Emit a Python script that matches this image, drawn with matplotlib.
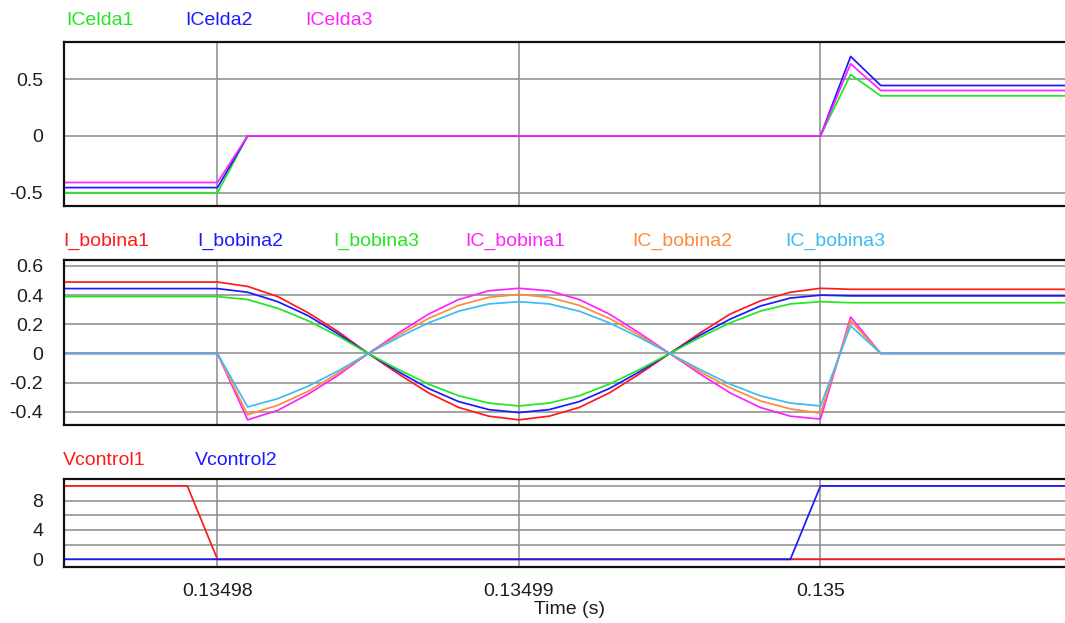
import matplotlib
matplotlib.use("Agg")
import matplotlib.pyplot as plt
from matplotlib import ticker

plt.rcParams['font.family'] = ['Liberation Sans', 'DejaVu Sans']

# ---- simulation samples (time step 1 us) ----
time_s = [0.134974, 0.134975, 0.134976, 0.134977, 0.134978, 0.134979, 0.134980,
          0.134981, 0.134982, 0.134983, 0.134984, 0.134985, 0.134986, 0.134987,
          0.134988, 0.134989, 0.134990, 0.134991, 0.134992, 0.134993, 0.134994,
          0.134995, 0.134996, 0.134997, 0.134998, 0.134999, 0.135000,
          0.135001, 0.135002, 0.135003, 0.135004, 0.135005, 0.135006, 0.135007,
          0.135008, 0.135009]

# cell currents
icelda1 = [-0.5, -0.5, -0.5, -0.5, -0.5, -0.5, -0.5,
           0, 0, 0, 0, 0, 0, 0, 0, 0, 0, 0, 0, 0, 0, 0, 0, 0, 0, 0, 0,
           0.54, 0.353, 0.353, 0.353, 0.353, 0.353, 0.353, 0.353, 0.353]
icelda2 = [-0.455, -0.455, -0.455, -0.455, -0.455, -0.455, -0.455,
           0, 0, 0, 0, 0, 0, 0, 0, 0, 0, 0, 0, 0, 0, 0, 0, 0, 0, 0, 0,
           0.70, 0.444, 0.444, 0.444, 0.444, 0.444, 0.444, 0.444, 0.444]
icelda3 = [-0.41, -0.41, -0.41, -0.41, -0.41, -0.41, -0.41,
           0, 0, 0, 0, 0, 0, 0, 0, 0, 0, 0, 0, 0, 0, 0, 0, 0, 0, 0, 0,
           0.635, 0.40, 0.40, 0.40, 0.40, 0.40, 0.40, 0.40, 0.40]

# inductor currents
i_bobina1 = [0.49, 0.49, 0.49, 0.49, 0.49, 0.49, 0.49,
             0.46, 0.39, 0.28, 0.15, 0.0, -0.14, -0.27, -0.37, -0.43, -0.455,
             -0.43, -0.37, -0.27, -0.14, 0.0, 0.14, 0.27, 0.36, 0.42, 0.447,
             0.44, 0.44, 0.44, 0.44, 0.44, 0.44, 0.44, 0.44, 0.44]
i_bobina2 = [0.445, 0.445, 0.445, 0.445, 0.445, 0.445, 0.445,
             0.42, 0.355, 0.26, 0.135, 0.0, -0.125, -0.24, -0.33, -0.385, -0.405,
             -0.385, -0.33, -0.24, -0.125, 0.0, 0.125, 0.235, 0.325, 0.38, 0.40,
             0.395, 0.395, 0.395, 0.395, 0.395, 0.395, 0.395, 0.395, 0.395]
i_bobina3 = [0.39, 0.39, 0.39, 0.39, 0.39, 0.39, 0.39,
             0.37, 0.31, 0.225, 0.12, 0.0, -0.11, -0.21, -0.29, -0.34, -0.36,
             -0.34, -0.29, -0.21, -0.11, 0.0, 0.11, 0.21, 0.29, 0.34, 0.355,
             0.348, 0.348, 0.348, 0.348, 0.348, 0.348, 0.348, 0.348, 0.348]
ic_bobina1 = [0, 0, 0, 0, 0, 0, 0,
              -0.455, -0.39, -0.28, -0.15, 0.0, 0.14, 0.27, 0.37, 0.43, 0.447,
              0.43, 0.37, 0.27, 0.14, 0.0, -0.14, -0.27, -0.37, -0.43, -0.45,
              0.25, 0, 0, 0, 0, 0, 0, 0, 0]
ic_bobina2 = [0, 0, 0, 0, 0, 0, 0,
              -0.42, -0.355, -0.26, -0.135, 0.0, 0.125, 0.24, 0.33, 0.385, 0.405,
              0.385, 0.33, 0.24, 0.125, 0.0, -0.125, -0.235, -0.325, -0.38, -0.41,
              0.225, 0, 0, 0, 0, 0, 0, 0, 0]
ic_bobina3 = [0, 0, 0, 0, 0, 0, 0,
              -0.367, -0.31, -0.225, -0.12, 0.0, 0.11, 0.21, 0.29, 0.34, 0.355,
              0.34, 0.29, 0.21, 0.11, 0.0, -0.11, -0.21, -0.29, -0.34, -0.36,
              0.19, 0, 0, 0, 0, 0, 0, 0, 0]

# control signals
vcontrol1 = [10, 10, 10, 10, 10, 10, 0,
             0, 0, 0, 0, 0, 0, 0, 0, 0, 0, 0, 0, 0, 0, 0, 0, 0, 0, 0, 0,
             0, 0, 0, 0, 0, 0, 0, 0, 0]
vcontrol2 = [0, 0, 0, 0, 0, 0, 0,
             0, 0, 0, 0, 0, 0, 0, 0, 0, 0, 0, 0, 0, 0, 0, 0, 0, 0, 0, 10,
             10, 10, 10, 10, 10, 10, 10, 10, 10]

x_ticks = [0.13498, 0.13499, 0.135]
panel1_yticks = [-0.5, 0, 0.5]
panel2_yticks = [-0.4, -0.2, 0, 0.2, 0.4, 0.6]
panel3_yticks = [0, 4, 8]
panel3_ygrid = [2, 6, 10]

RED = '#ff1a1a'
BLUE = '#1a1aff'
GREEN = '#22e622'
MAGENTA = '#ff22ff'
ORANGE = '#ff8a3a'
CYAN = '#3cbcf0'

W, H = 1065, 623
fig = plt.figure(figsize=(W / 100, H / 100), dpi=100)

FS = 14
TXT = '#1e1e1e'
x_left, x_right = 0.13497491, 0.13500811


def make_axes(top, bottom):
    ax = fig.add_axes([64 / W, 1 - bottom / H, (W - 64) / W, (bottom - top) / H])
    ax.set_xlim(x_left, x_right)
    for side in ('top', 'bottom', 'left'):
        ax.spines[side].set_linewidth(1.6)
        ax.spines[side].set_color('#111111')
    ax.spines['right'].set_visible(False)
    ax.xaxis.set_major_locator(ticker.FixedLocator(x_ticks))
    ax.xaxis.set_major_formatter(ticker.FuncFormatter(lambda v, p: f'{v:g}'))
    ax.grid(True, which='both', color='#8a8a8a', linewidth=1.1)
    ax.set_axisbelow(True)
    ax.tick_params(axis='both', which='both', length=0, labelsize=FS, colors=TXT)
    ax.tick_params(axis='y', pad=15)
    ax.tick_params(axis='x', pad=12)
    return ax


LW = 1.25

ax1 = make_axes(42, 206)
ax1.set_ylim(-0.617, 0.827)
ax1.yaxis.set_major_locator(ticker.FixedLocator(panel1_yticks))
ax1.yaxis.set_major_formatter(ticker.FuncFormatter(lambda v, p: f'{v:g}'))
ax1.plot(time_s, icelda1, color=GREEN, lw=LW)
ax1.plot(time_s, icelda2, color=BLUE, lw=LW)
ax1.plot(time_s, icelda3, color=MAGENTA, lw=LW)
ax1.tick_params(axis='x', labelbottom=False)

ax2 = make_axes(260, 424.5)
ax2.set_ylim(-0.487, 0.641)
ax2.yaxis.set_major_locator(ticker.FixedLocator(panel2_yticks))
ax2.yaxis.set_major_formatter(ticker.FuncFormatter(lambda v, p: f'{v:g}'))
ax2.plot(time_s, i_bobina1, color=RED, lw=LW)
ax2.plot(time_s, i_bobina2, color=BLUE, lw=LW)
ax2.plot(time_s, i_bobina3, color=GREEN, lw=LW)
ax2.plot(time_s, ic_bobina1, color=MAGENTA, lw=LW)
ax2.plot(time_s, ic_bobina2, color=ORANGE, lw=LW)
ax2.plot(time_s, ic_bobina3, color=CYAN, lw=LW)
ax2.tick_params(axis='x', labelbottom=False)

ax3 = make_axes(479.3, 566.7)
ax3.set_ylim(-1.0, 10.9)
ax3.yaxis.set_major_locator(ticker.FixedLocator(panel3_yticks))
ax3.yaxis.set_minor_locator(ticker.FixedLocator(panel3_ygrid))
ax3.yaxis.set_major_formatter(ticker.FuncFormatter(lambda v, p: f'{v:g}'))
ax3.plot(time_s, vcontrol1, color=RED, lw=LW)
ax3.plot(time_s, vcontrol2, color=BLUE, lw=LW)

fig.text(570 / W, 1 - 614 / H, 'Time (s)', fontsize=FS, color=TXT,
         ha='center', va='baseline')


def series_label(x, y, text, color):
    fig.text(x / W, 1 - y / H, text, fontsize=FS, color=color,
             ha='left', va='baseline')


series_label(66, 25, 'ICelda1', GREEN)
series_label(185, 25, 'ICelda2', BLUE)
series_label(305, 25, 'ICelda3', MAGENTA)

series_label(63, 246, 'I_bobina1', RED)
series_label(197, 246, 'I_bobina2', BLUE)
series_label(333, 246, 'I_bobina3', GREEN)
series_label(465, 246, 'IC_bobina1', MAGENTA)
series_label(632, 246, 'IC_bobina2', ORANGE)
series_label(785, 246, 'IC_bobina3', CYAN)

series_label(63, 465, 'Vcontrol1', RED)
series_label(195, 465, 'Vcontrol2', BLUE)

fig.savefig('out.png', dpi=100, facecolor='white')
